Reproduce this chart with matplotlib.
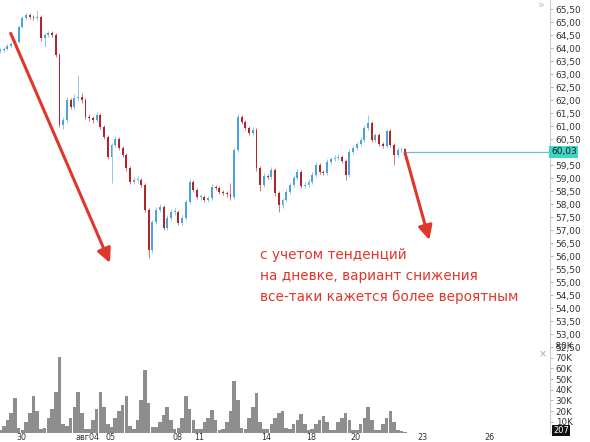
import numpy as np
import matplotlib
matplotlib.use("Agg")
import matplotlib.pyplot as plt
import matplotlib.transforms as mtransforms
from matplotlib import font_manager

# ---------------- data ----------------
opens = [
    63.90, 63.94, 63.98, 64.10, 64.17, 64.25,
    64.83, 65.17, 65.29, 65.21, 65.17, 65.21,
    64.40, 64.52, 64.60, 64.52, 63.75, 61.06,
    61.25, 62.02, 61.75, 62.10, 62.13, 62.02,
    61.37, 61.33, 61.25, 61.44, 60.98, 60.60,
    59.83, 60.29, 60.52, 60.17, 59.90, 59.40,
    58.87, 58.94, 58.94, 58.75, 57.79, 56.25,
    57.33, 57.79, 57.90, 57.10, 57.48, 57.71,
    57.71, 57.29, 57.48, 58.10, 58.87, 58.56,
    58.29, 58.29, 58.17, 58.25, 58.67, 58.63,
    58.48, 58.44, 58.40, 58.29, 60.10, 61.37,
    61.17, 60.94, 60.75, 60.87, 59.40, 58.75,
    59.10, 59.06, 59.33, 58.44, 57.98, 58.17,
    58.48, 58.75, 59.02, 59.25, 58.71, 58.75,
    58.87, 59.13, 59.52, 59.25, 59.21, 59.63,
    59.75, 59.79, 59.83, 59.67, 59.13, 60.02,
    60.17, 60.33, 60.48, 60.94, 61.13, 60.48,
    60.67, 60.33, 60.25, 60.83, 60.29, 59.90,
    60.10, 60.13]
closes = [
    63.94, 63.98, 64.10, 64.17, 64.25, 64.83,
    65.17, 65.29, 65.21, 65.17, 65.21, 64.40,
    64.52, 64.60, 64.52, 63.75, 61.06, 61.25,
    62.02, 61.75, 62.10, 62.13, 62.02, 61.37,
    61.33, 61.25, 61.44, 60.98, 60.60, 59.83,
    60.29, 60.52, 60.17, 59.90, 59.40, 58.87,
    58.94, 58.94, 58.75, 57.79, 56.25, 57.33,
    57.79, 57.90, 57.10, 57.48, 57.71, 57.71,
    57.29, 57.48, 58.10, 58.87, 58.56, 58.29,
    58.29, 58.17, 58.25, 58.67, 58.63, 58.48,
    58.44, 58.40, 58.29, 60.10, 61.37, 61.17,
    60.94, 60.75, 60.87, 59.40, 58.75, 59.10,
    59.06, 59.33, 58.44, 57.98, 58.17, 58.48,
    58.75, 59.02, 59.25, 58.71, 58.75, 58.87,
    59.13, 59.52, 59.25, 59.21, 59.63, 59.75,
    59.79, 59.83, 59.67, 59.13, 60.02, 60.17,
    60.33, 60.48, 60.94, 61.13, 60.48, 60.67,
    60.33, 60.25, 60.83, 60.29, 59.90, 60.10,
    60.13, 60.03]
highs = [
    64.02, 64.05, 64.16, 64.26, 64.33, 64.90,
    65.25, 65.36, 65.38, 65.30, 65.48, 65.27,
    64.60, 64.68, 64.66, 64.58, 63.82, 61.36,
    62.12, 62.10, 62.25, 62.98, 62.30, 62.08,
    61.48, 61.42, 61.56, 61.52, 61.05, 60.68,
    60.38, 60.62, 60.60, 60.25, 59.98, 59.48,
    59.05, 59.10, 59.02, 58.82, 57.86, 57.42,
    57.90, 58.02, 57.98, 57.58, 57.82, 57.85,
    57.78, 57.58, 58.20, 58.98, 58.95, 58.64,
    58.40, 58.36, 58.34, 58.78, 58.76, 58.70,
    58.56, 58.52, 58.83, 60.18, 61.48, 61.45,
    61.25, 61.02, 60.98, 60.95, 59.48, 59.20,
    59.18, 59.44, 59.40, 58.52, 58.26, 58.58,
    58.84, 59.12, 59.36, 59.32, 58.86, 58.96,
    59.24, 59.62, 59.60, 59.34, 59.74, 59.84,
    59.90, 59.94, 59.92, 59.74, 60.12, 60.28,
    60.42, 60.58, 61.04, 61.44, 61.20, 60.76,
    60.75, 60.42, 60.92, 60.90, 60.36, 60.20,
    60.22, 60.18]
lows = [
    63.84, 63.88, 63.93, 64.04, 64.06, 64.20,
    64.78, 65.10, 65.12, 65.08, 65.10, 64.30,
    64.06, 64.45, 64.44, 63.66, 60.98, 60.90,
    61.18, 61.66, 61.68, 61.98, 61.92, 61.28,
    61.22, 61.15, 61.18, 60.90, 60.50, 59.75,
    58.83, 60.22, 60.08, 59.82, 59.30, 58.78,
    58.80, 58.82, 58.66, 57.70, 55.94, 56.15,
    57.25, 57.70, 57.00, 57.02, 57.40, 57.60,
    57.20, 57.22, 57.40, 58.02, 58.48, 58.20,
    58.18, 58.08, 58.08, 58.18, 58.54, 58.40,
    58.36, 58.30, 58.18, 58.20, 60.02, 61.08,
    60.85, 60.66, 60.68, 59.30, 58.52, 58.68,
    58.96, 58.98, 58.34, 57.71, 57.88, 58.10,
    58.40, 58.68, 58.95, 58.62, 58.62, 58.66,
    58.80, 59.05, 59.16, 59.12, 59.14, 59.56,
    59.66, 59.70, 59.58, 58.94, 59.05, 59.94,
    60.10, 60.26, 60.40, 60.86, 60.40, 60.40,
    60.24, 60.16, 60.18, 60.20, 59.52, 59.82,
    60.02, 59.96]
volume_k = [
    2, 6, 12, 18, 32, 4,
    2, 10, 18, 34, 20, 3,
    4, 14, 22, 38, 71, 8,
    6, 14, 24, 38, 18, 3,
    3, 12, 22, 38, 24, 8,
    5, 14, 20, 26, 34, 6,
    3, 12, 30, 59, 28, 5,
    5, 10, 16, 24, 12, 3,
    4, 14, 34, 22, 12, 3,
    3, 10, 14, 21, 12, 2,
    3, 10, 20, 48, 30, 4,
    3, 14, 24, 37, 10, 3,
    3, 8, 14, 18, 20, 4,
    3, 8, 12, 17, 8, 2,
    3, 8, 12, 15, 10, 2,
    2, 10, 14, 18, 12, 2,
    2, 8, 14, 24, 12, 2,
    2, 8, 14, 20, 10, 2,
    1, 0.2]
last_price = 60.03
last_volume = "207"

date_pos = [0, 3, 4, 7, 8, 11, 13, 15, 18, 21]
date_labels = ["30", "авг04", "05", "08", "11", "14", "18", "20", "23", "26"]
price_ticks = [52.5, 53.0, 53.5, 54.0, 54.5, 55.0, 55.5, 56.0, 56.5, 57.0, 57.5,
               58.0, 58.5, 59.0, 59.5, 60.5, 61.0, 61.5, 62.0, 62.5, 63.0,
               63.5, 64.0, 64.5, 65.0, 65.5]
vol_ticks = [10, 20, 30, 40, 50, 60, 70]

note_lines = ["с учетом тенденций",
              "на дневке, вариант снижения",
              "все-таки кажется более вероятным"]

# ---------------- style ----------------
names = {f.name for f in font_manager.fontManager.ttflist}
tick_font = "Liberation Sans Narrow" if "Liberation Sans Narrow" in names else "DejaVu Sans"

UP = "#4aa3df"
DOWN = "#b3232c"
RED = "#e0372c"
W, H = 590, 442
VB = 432.5  # volume baseline (px from top)

fig = plt.figure(figsize=(W / 100, H / 100), dpi=100)
fig.patch.set_facecolor("white")
ax = fig.add_axes([0, 1 - 350 / H, 550 / W, 350 / H])
axv = fig.add_axes([0, 1 - VB / H, 550 / W, (VB - 350) / H], sharex=ax)

o = np.array(opens); c = np.array(closes)
hi = np.array(highs); lo = np.array(lows)
n = len(c)
x = -0.94 + np.arange(n) / 6.0
cols = np.where(c >= o, UP, DOWN)

ax.vlines(x, lo, hi, colors=cols, linewidth=0.6, alpha=0.7, zorder=2)
body_bot = np.minimum(o, c)
body_h = np.maximum(np.abs(c - o), 0.03)
ax.bar(x, body_h, bottom=body_bot, width=0.085, color=cols, linewidth=0, zorder=3)

ax.set_xlim(-0.94, 23.72)
ax.set_ylim(52.40, 65.865)

# last price line & label
ax.hlines(last_price, x[-1], 23.72, colors="#5cc6d2", linewidth=0.9, zorder=1)
trans = mtransforms.blended_transform_factory(ax.transAxes, ax.transData)
ax.text(1.002, last_price, f"{last_price:.2f}".replace(".", ","), transform=trans,
        ha="left", va="center", fontsize=6.5, family=tick_font, color="#1a1a1a",
        bbox=dict(boxstyle="square,pad=0.18", fc="#3fd6c6", ec="none"), clip_on=False, zorder=5)

ax.yaxis.tick_right()
ax.set_yticks(price_ticks)
ax.set_yticklabels([f"{v:.2f}".replace(".", ",") for v in price_ticks])
ax.tick_params(axis="y", direction="out", length=2.5, width=0.6, color="#aaaaaa",
               labelsize=6.5, labelcolor="#333333", pad=1.5)
for lab in ax.get_yticklabels():
    lab.set_family(tick_font)
ax.tick_params(axis="x", length=0, labelbottom=False)
for s in ["top", "left"]:
    ax.spines[s].set_visible(False)
ax.spines["right"].set_color("#cccccc")
ax.spines["right"].set_linewidth(0.8)
ax.spines["bottom"].set_color("#dddddd")
ax.spines["bottom"].set_linewidth(0.8)

# arrows
arrow_kw = dict(arrowstyle="-|>,head_length=0.85,head_width=0.42", color=RED, lw=2.2,
                mutation_scale=10, shrinkA=0, shrinkB=0)
ax.annotate("", xy=(3.99, 55.75), xytext=(-0.46, 64.58), arrowprops=arrow_kw, zorder=6)
ax.annotate("", xy=(18.31, 56.63), xytext=(17.22, 59.98), arrowprops=arrow_kw, zorder=6)

# note text
for i, line in enumerate(note_lines):
    fig.text(260 / W, 1 - (255 + 21 * i) / H, line, color=RED, fontsize=9.8,
             ha="left", va="center", family="DejaVu Sans")

fig.text(541 / W, 1 - 5 / H, "»", color="#bbbbbb", fontsize=8, ha="center", va="center")

# volume
axv.bar(x, volume_k, width=0.16, color="#8e8e8e", linewidth=0)
axv.set_ylim(0, (VB - 350) / 1.067)
axv.yaxis.tick_right()
axv.set_yticks(vol_ticks)
axv.set_yticklabels([f"{v}K" for v in vol_ticks])
axv.tick_params(axis="y", direction="out", length=2.5, width=0.6, color="#aaaaaa",
                labelsize=6.3, labelcolor="#333333", pad=1.5)
for lab in axv.get_yticklabels():
    lab.set_family(tick_font)
axv.text(1.0, 80.5, "  80K", transform=mtransforms.blended_transform_factory(axv.transAxes, axv.transData),
         ha="left", va="center", fontsize=6.3, family=tick_font, color="#333333", clip_on=False)
axv.text(1.006, 0.02, last_volume, transform=axv.transAxes, ha="left", va="center",
         fontsize=6.0, family=tick_font, color="white",
         bbox=dict(boxstyle="square,pad=0.12", fc="#111111", ec="none"), clip_on=False)
axv.text(543 / 550, 0.95, "×", transform=axv.transAxes, color="#aaaaaa", fontsize=7,
         ha="center", va="center")
axv.set_xticks(date_pos)
axv.set_xticklabels(date_labels)
axv.tick_params(axis="x", length=0, labelsize=5.8, labelcolor="#333333", pad=0.5)
for lab in axv.get_xticklabels():
    lab.set_family(tick_font)
for s in ["top", "left", "bottom"]:
    axv.spines[s].set_visible(False)
axv.spines["right"].set_color("#cccccc")
axv.spines["right"].set_linewidth(0.8)

fig.savefig("out.png", dpi=100)
